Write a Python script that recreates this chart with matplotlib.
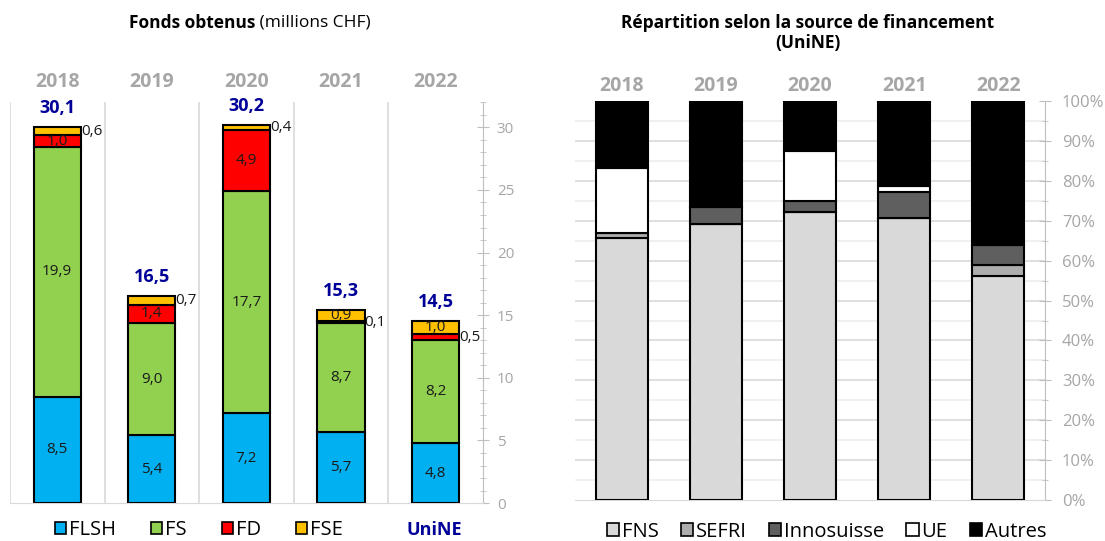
import matplotlib
matplotlib.use("Agg")
import matplotlib.pyplot as plt
from matplotlib.patches import Patch
from matplotlib.ticker import MultipleLocator, FuncFormatter
import numpy as np

plt.rcParams['font.family'] = ['Open Sans', 'DejaVu Sans']

years = ['2018', '2019', '2020', '2021', '2022']

# Left chart: funds obtained (millions CHF)
flsh = [8.5, 5.4, 7.2, 5.7, 4.8]
fs = [19.9, 9.0, 17.7, 8.7, 8.2]
fd = [1.0, 1.4, 4.9, 0.1, 0.5]
fse = [0.6, 0.7, 0.4, 0.9, 1.0]
totals = [30.1, 16.5, 30.2, 15.3, 14.5]
left_series = ['FLSH', 'FS', 'FD', 'FSE']

# Right chart: share by funding source (%)
fns = [65.7, 69.2, 72.3, 70.8, 56.1]
sefri = [1.3, 0.0, 0.0, 0.0, 2.7]
innosuisse = [0.0, 4.3, 2.7, 6.5, 5.2]
ue = [16.3, 0.0, 12.5, 1.4, 0.0]
autres = [16.7, 26.5, 12.5, 21.3, 36.0]
right_series = ['FNS', 'SEFRI', 'Innosuisse', 'UE', 'Autres']

left_colors = ['#00B0F0', '#92D050', '#FF0000', '#FFC000']
right_colors = ['#D9D9D9', '#ADADAD', '#5F5F5F', '#FFFFFF', '#000000']
navy = '#000099'
grey_txt = '#A6A6A6'

fig = plt.figure(figsize=(11.05, 5.41), dpi=100)

def fmt(v):
    return f"{v:.1f}".replace('.', ',')

# ---------- Left chart ----------
axL = fig.add_axes([0.009, 0.070, 0.428, 0.741])
x = np.arange(len(years))
bw = 0.5
bottoms = np.zeros(len(years))
data_left = [flsh, fs, fd, fse]
for vals, col in zip(data_left, left_colors):
    axL.bar(x, vals, bw, bottom=bottoms, color=col, edgecolor='black', linewidth=1.5, zorder=3)
    bottoms += np.array(vals)

axL.set_xlim(-0.5, 4.5)
axL.set_ylim(0, 32)
for b in np.arange(-0.5, 4.6, 1.0)[:-1]:
    axL.axvline(b, color='#D9D9D9', lw=1.2, zorder=1)
for s in ['top', 'left']:
    axL.spines[s].set_visible(False)
axL.spines['bottom'].set_color('#D9D9D9')
axL.spines['right'].set_color('#BFBFBF')
axL.yaxis.tick_right()
axL.yaxis.set_major_locator(MultipleLocator(5))
axL.yaxis.set_minor_locator(MultipleLocator(1))
axL.tick_params(axis='y', which='major', length=8, color='#BFBFBF', labelcolor=grey_txt,
                labelsize=11, direction='inout', pad=6)
axL.tick_params(axis='y', which='minor', length=4, color='#BFBFBF', direction='inout')
axL.set_xticks([])

# in-bar labels
for i in range(len(years)):
    b0 = 0
    for k, vals in enumerate(data_left):
        v = vals[i]
        mid = b0 + v / 2
        if v >= 0.8:
            axL.text(x[i], mid, fmt(v), ha='center', va='center', fontsize=11, color='#1a1a1a', zorder=4)
        else:
            axL.text(x[i] + bw / 2 + 0.0, mid, fmt(v), ha='left', va='center', fontsize=11,
                     color='#1a1a1a', zorder=4)
        b0 += v
    axL.text(x[i], bottoms[i] + 0.8, fmt(totals[i]), ha='center', va='bottom', fontsize=13,
             fontweight='bold', color=navy)
    axL.text(x[i], 32.8, years[i], ha='center', va='bottom', fontsize=14, fontweight='bold',
             color=grey_txt, clip_on=False)

handlesL = [Patch(facecolor=c, edgecolor='black', linewidth=1.2) for c in left_colors]
fig.legend(handlesL, left_series, ncol=4, loc='center', bbox_to_anchor=(0.180, 0.020),
           frameon=False, fontsize=14.5, handlelength=0.55, handleheight=0.55,
           handletextpad=0.15, columnspacing=1.75)
fig.text(0.393, 0.020, 'UniNE', ha='center', va='center', fontsize=13, fontweight='bold', color=navy)

fig.text(0.231, 0.958, 'Fonds obtenus', ha='right', va='center', fontsize=12.5, fontweight='bold')
fig.text(0.231, 0.958, ' (millions CHF)', ha='left', va='center', fontsize=12.5)

# ---------- Right chart ----------
axR = fig.add_axes([0.520, 0.0758, 0.426, 0.7372])
bw2 = 0.55
bottoms = np.zeros(len(years))
data_right = [fns, sefri, innosuisse, ue, autres]
for vals, col in zip(data_right, right_colors):
    axR.bar(x, vals, bw2, bottom=bottoms, color=col, edgecolor='black', linewidth=1.5, zorder=3)
    bottoms += np.array(vals)

axR.set_xlim(-0.5, 4.5)
axR.set_ylim(0, 100)
for yv in range(5, 100, 5):
    axR.axhline(yv, color='#D9D9D9' if yv % 10 == 0 else '#EDEDED', lw=1.2, zorder=1)
for s in ['top', 'left']:
    axR.spines[s].set_visible(False)
axR.spines['bottom'].set_color('#D9D9D9')
axR.spines['right'].set_color('#BFBFBF')
axR.yaxis.tick_right()
axR.yaxis.set_major_locator(MultipleLocator(10))
axR.yaxis.set_minor_locator(MultipleLocator(5))
axR.yaxis.set_major_formatter(FuncFormatter(lambda v, p: f"{int(v)}%"))
axR.tick_params(axis='y', which='major', length=8, color='#BFBFBF', labelcolor=grey_txt,
                labelsize=12, direction='inout', pad=8)
axR.tick_params(axis='y', which='minor', length=5, color='#BFBFBF', direction='inout')
axR.set_xticks([])
for i in range(len(years)):
    axR.text(x[i], 101.2, years[i], ha='center', va='bottom', fontsize=14, fontweight='bold',
             color=grey_txt, clip_on=False)

handlesR = [Patch(facecolor=c, edgecolor='black', linewidth=1.2) for c in right_colors]
fig.legend(handlesR, right_series, ncol=5, loc='center', bbox_to_anchor=(0.748, 0.017),
           frameon=False, fontsize=14.5, handlelength=0.6, handleheight=0.6,
           handletextpad=0.15, columnspacing=1.1)

fig.text(0.731, 0.958, 'Répartition selon la source de financement', ha='center', va='center',
         fontsize=12.5, fontweight='bold')
fig.text(0.731, 0.920, '(UniNE)', ha='center', va='center', fontsize=12.5, fontweight='bold')

fig.savefig('out.png', dpi=100)
